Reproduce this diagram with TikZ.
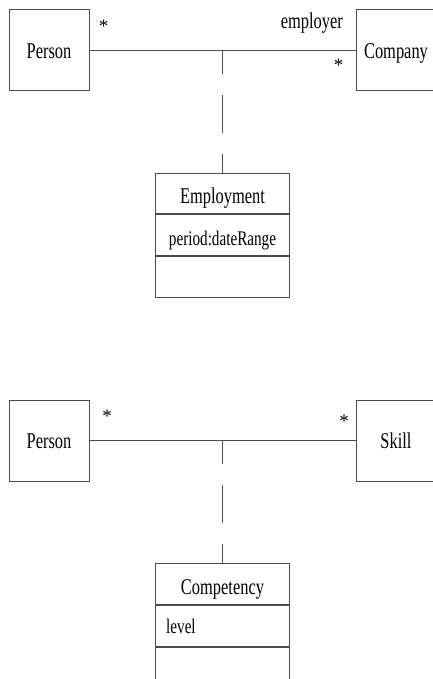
\documentclass[tikz,border=0pt]{standalone}
\usepackage{fontspec}
\setmainfont{Liberation Serif}
\newfontfamily\cnd{Liberation Serif}[FakeStretch=0.73]
\begin{document}
\begin{tikzpicture}[x=1pt,y=-1pt,
  lw/.style={line width=1pt,draw=black!70},
  cls/.style={lw,rectangle,inner sep=0pt,minimum width=80pt,minimum height=81pt,
    font=\cnd\fontsize{22.5}{27}\selectfont,text height=16pt,text depth=0pt},
  hdr/.style={lw,rectangle,inner sep=0pt,minimum width=133.3pt,minimum height=40.6pt,
    font=\cnd\fontsize{22.5}{27}\selectfont,text height=20pt,text depth=0pt},
  att/.style={lw,rectangle,inner sep=0pt,minimum width=133.3pt,minimum height=41pt,
    font=\cnd\fontsize{20.8}{25}\selectfont,text height=20pt,text depth=0pt},
  lbl/.style={inner sep=0pt,font=\cnd\fontsize{22.5}{27}\selectfont},
  star/.style={inner sep=0pt,anchor=base,font=\fontsize{19}{22}\selectfont},
  assoc/.style={lw},
  dsh/.style={lw,dash pattern=on 38pt off 21pt,dash phase=19pt}]
\useasboundingbox (0,0) rectangle (432,679);
% ---------- top diagram ----------
\node[cls] (p1) at (49,50.5) {Person};
\node[cls] (c1) at (396,50.5) {Company};
\draw[assoc] (p1.east) -- (c1.west);
\coordinate (m1) at (222.5,50.5);
\node[hdr,anchor=north] (e1) at (222.5,172.7) {Employment};
\node[att,anchor=north] (e2) at (e1.south) {period:dateRange};
\node[att,anchor=north] (e3) at (e2.south) {};
\draw[dsh] (e1.north) -- (m1);
\node[star] (s1) at (103.5,32.8) {*};
\node[star] (s2) at (338.5,71.6) {*};
\node[lbl,anchor=base east] (r1) at (343,28.3) {employer};
% ---------- bottom diagram ----------
\node[cls] (p2) at (49,440.7) {Person};
\node[cls] (k2) at (396,440.7) {Skill};
\draw[assoc] (p2.east) -- (k2.west);
\coordinate (m2) at (222.5,440.7);
\node[hdr,anchor=north] (q1) at (222.5,563.3) {Competency};
\node[att,anchor=north] (q2) at (q1.south) {};
\node[lbl,anchor=base west,font=\cnd\fontsize{20.8}{25}\selectfont] (lv) at (166,633.3) {level};
\node[att,anchor=north] (q3) at (q2.south) {};
\draw[dsh] (q1.north) -- (m2);
\node[star] (s3) at (107,422.8) {*};
\node[star] (s4) at (344,427.8) {*};
\end{tikzpicture}
\end{document}
